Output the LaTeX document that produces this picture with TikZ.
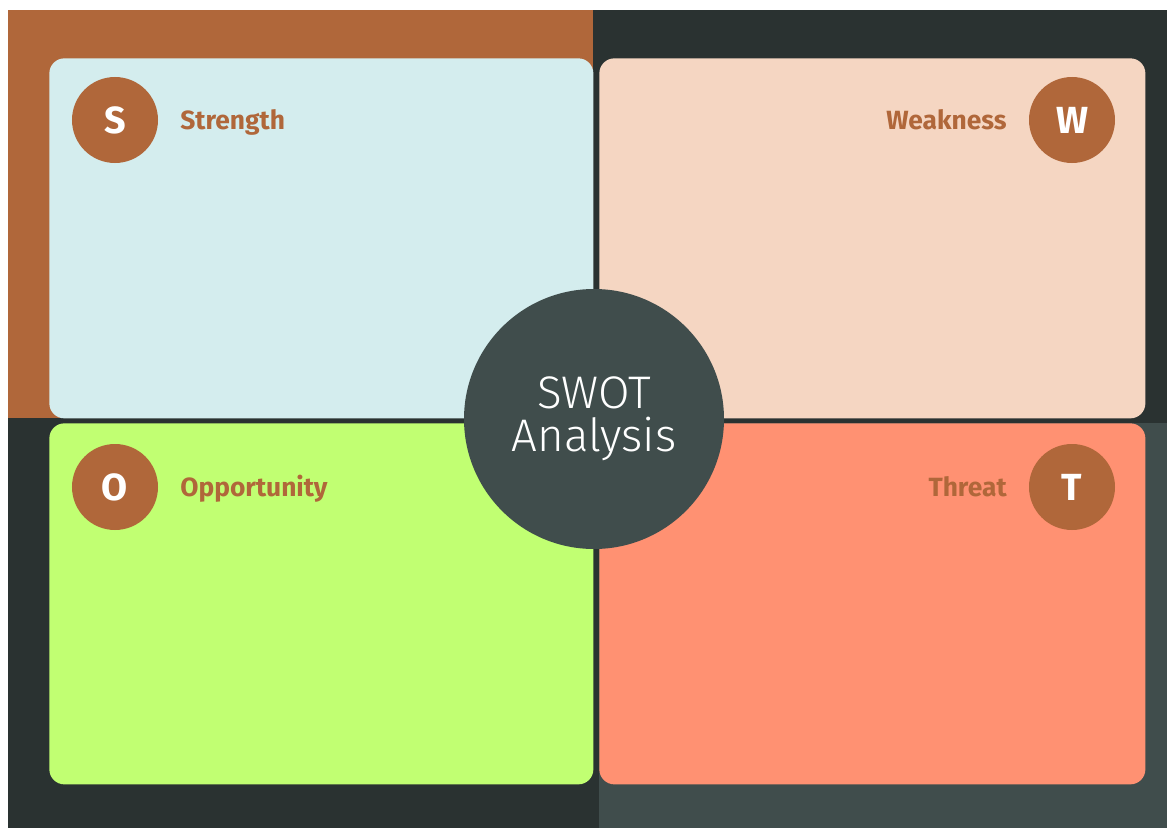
\documentclass[tikz,border=0pt]{standalone}
\usepackage{fontspec}
\setmainfont{Fira Sans}
\newfontfamily\thinfont{Fira Sans}[UprightFont={* Light}]
\usepackage{xcolor}
\usetikzlibrary{positioning}
\definecolor{swotbrown}{HTML}{B0673A}
\definecolor{swotdark}{HTML}{2A3231}
\definecolor{swotgray}{HTML}{404D4C}
\definecolor{swotblue}{HTML}{D4EDEE}
\definecolor{swotpeach}{HTML}{F5D6C2}
\definecolor{swotgreen}{HTML}{C1FF72}
\definecolor{swotsalmon}{HTML}{FF9172}
\begin{document}
\begin{tikzpicture}[
  x=0.2mm, y=-0.2mm,
  card/.style={rounded corners=3mm,inner sep=0pt,anchor=north west},
  badge/.style={circle,fill=swotbrown,minimum size=17.2mm,inner sep=0pt,
                text=white,font=\fontsize{21.5}{24}\selectfont\bfseries},
  lbl/.style={text=swotbrown,font=\fontsize{15}{18}\selectfont\bfseries,inner sep=0pt},
  hub/.style={circle,fill=swotgray,minimum size=52mm,inner sep=0pt,
              text=white,align=center,
              font=\thinfont\fontsize{26}{24.5}\selectfont}
]
\useasboundingbox (0,0) rectangle (1167,828);
% background quarters
\fill[swotdark] (8,10) rectangle (1167,828);
\fill[swotbrown] (8,10) rectangle (593,418);
\fill[swotgray] (599,423) rectangle (1167,828);

% cards
\node[card,fill=swotblue,minimum width=108.8mm,minimum height=72mm] (qs) at (49,58) {};
\node[card,fill=swotpeach,minimum width=109.2mm,minimum height=72mm] (qw) at (599,58) {};
\node[card,fill=swotgreen,minimum width=108.8mm,minimum height=72.2mm] (qo) at (49,423) {};
\node[card,fill=swotsalmon,minimum width=109.2mm,minimum height=72.2mm] (qt) at (599,423) {};

% letter badges and titles
\node[badge] (bs) at (115,120) {S};
\node[badge] (bw) at (1072,120) {W};
\node[badge] (bo) at (115,487) {O};
\node[badge] (bt) at (1072,487) {T};
\node[lbl,anchor=base west] (ls) at (180,129) {Strength};
\node[lbl,anchor=base east] (lw) at (1007,129) {Weakness};
\node[lbl,anchor=base west] (lo) at (180,496) {Opportunity};
\node[lbl,anchor=base east] (lt) at (1007,496) {Threat};

% hub
\node[hub] (swot) at (594,419) {SWOT\\Analysis};
\end{tikzpicture}
\end{document}
